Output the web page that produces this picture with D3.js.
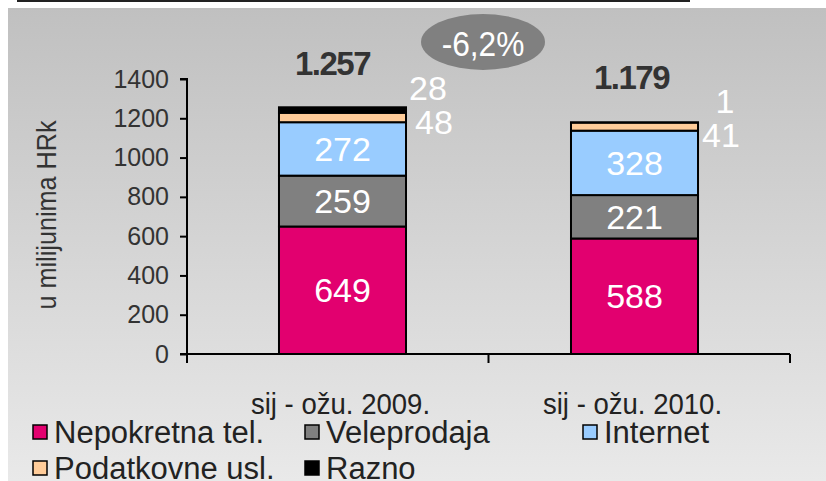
<!DOCTYPE html>
<html>
<head>
<meta charset="utf-8">
<script src="https://cdn.jsdelivr.net/npm/d3@7.9.0/dist/d3.min.js"></script>
<style>
  html, body { margin: 0; padding: 0; background: #fff; }
  svg { display: block; }
  text { font-family: "Liberation Sans", Arial, sans-serif; }
</style>
</head>
<body>
<svg id="chart" width="826" height="481"></svg>
<script>
const periods = ['sij - ožu. 2009.', 'sij - ožu. 2010.'];
const seriesNames = ['Nepokretna tel.', 'Veleprodaja', 'Internet', 'Podatkovne usl.', 'Razno'];
const seriesColors = ['#e2006f', '#808080', '#99ccff', '#ffcc99', '#000000'];
const nepokretna = [649, 588];
const veleprodaja = [259, 221];
const internet = [272, 328];
const podatkovne = [48, 41];
const razno = [28, 1];
const totals = ['1.257', '1.179'];
const yTicks = [0, 200, 400, 600, 800, 1000, 1200, 1400];
const change = '-6,2%';

const svg = d3.select('#chart');

// background panel with vertical gradient
const grad = svg.append('defs').append('linearGradient')
  .attr('id', 'bg').attr('x1', 0).attr('y1', 0).attr('x2', 0).attr('y2', 1);
grad.append('stop').attr('offset', '0%').attr('stop-color', '#c0c0c0');
grad.append('stop').attr('offset', '100%').attr('stop-color', '#e9e9e9');
svg.append('rect').attr('x', 8).attr('y', 8).attr('width', 818).attr('height', 473)
  .attr('fill', 'url(#bg)');

// line left over from the title above
svg.append('line').attr('x1', 17).attr('x2', 690).attr('y1', 1).attr('y2', 1)
  .attr('stroke', '#222').attr('stroke-width', 2);

const x = d3.scaleBand().domain(periods).range([187, 790])
  .paddingInner(0.565).paddingOuter(0.315);
const y = d3.scaleLinear().domain([0, 1400]).range([354, 79]);

const rows = periods.map((p, i) => ({
  period: p,
  values: [nepokretna[i], veleprodaja[i], internet[i], podatkovne[i], razno[i]]
}));

const stack = d3.stack().keys(d3.range(seriesNames.length)).value((d, k) => d.values[k]);
const layers = stack(rows);

// y axis
const yAxis = svg.append('g').attr('transform', 'translate(187,0)')
  .call(d3.axisLeft(y).tickValues(yTicks).tickFormat(d3.format('d')).tickSize(7).tickPadding(11));
yAxis.select('.domain').attr('stroke', '#000').attr('stroke-width', 2)
  .attr('d', `M-7,${y(1400)}H0V${y(0) + 8}`);
yAxis.selectAll('.tick line').attr('stroke', '#000').attr('stroke-width', 2);
yAxis.selectAll('.tick text').attr('font-size', 25).attr('fill', '#333')
  .attr('font-family', 'Liberation Sans, Arial, sans-serif');

svg.append('text')
  .attr('transform', `translate(56,215) rotate(-90) scale(0.9,1)`)
  .attr('text-anchor', 'middle')
  .attr('font-size', 28).attr('fill', '#333')
  .text('u milijunima HRk');

// bars
layers.forEach((layer, k) => {
  svg.append('g').selectAll('rect').data(layer).join('rect')
    .attr('x', d => x(d.data.period))
    .attr('y', d => y(d[1]))
    .attr('width', x.bandwidth())
    .attr('height', d => y(d[0]) - y(d[1]))
    .attr('fill', seriesColors[k])
    .attr('stroke', '#000').attr('stroke-width', 2);
});

// x axis
const xEdges = [x.range()[0], (x(periods[0]) + x.bandwidth() + x(periods[1])) / 2, x.range()[1]];
svg.append('line').attr('x1', 180).attr('x2', 790).attr('y1', y(0)).attr('y2', y(0))
  .attr('stroke', '#000').attr('stroke-width', 2);
svg.append('g').selectAll('line').data(xEdges).join('line')
  .attr('x1', d => d).attr('x2', d => d)
  .attr('y1', y(0)).attr('y2', y(0) + 9)
  .attr('stroke', '#000').attr('stroke-width', 2);
svg.append('g').selectAll('text').data(periods).join('text')
  .attr('transform', d => `translate(${x(d) + x.bandwidth() / 2 - 2},414) scale(0.95,1)`)
  .attr('text-anchor', 'middle')
  .attr('font-size', 29).attr('fill', '#222')
  .text(d => d);

// value labels
layers.forEach((layer, k) => {
  layer.forEach((d, i) => {
    const v = d.data.values[k];
    const cx = x(d.data.period) + x.bandwidth() / 2;
    const right = x(d.data.period) + x.bandwidth();
    const mid = (y(d[0]) + y(d[1])) / 2;
    let lx = cx, ly = mid;
    if (k === 3) { lx = right + 28 - 5 * i; ly = mid + 4 + 4 * i; }
    if (k === 4) { lx = right + 22 + 5 * i; ly = mid - 22 + 0.5 * i; }
    svg.append('text')
      .attr('x', lx).attr('y', ly)
      .attr('dy', '0.36em')
      .attr('text-anchor', 'middle')
      .attr('font-size', 34).attr('fill', '#fff')
      .text(v);
  });
});

// totals
svg.append('g').selectAll('text').data(periods).join('text')
  .attr('x', (d, i) => x(d) + x.bandwidth() / 2 - 10 + i * 7)
  .attr('y', (d, i) => i === 0 ? 75 : 89)
  .attr('text-anchor', 'middle')
  .attr('font-weight', 'bold')
  .attr('font-size', 33).attr('letter-spacing', -1.5).attr('fill', '#333')
  .text((d, i) => totals[i]);

// change bubble
svg.append('ellipse').attr('cx', 483).attr('cy', 42).attr('rx', 62).attr('ry', 28)
  .attr('fill', '#808080');
svg.append('text').attr('transform', 'translate(483,43) scale(0.88,1)').attr('dy', '0.36em')
  .attr('text-anchor', 'middle').attr('font-size', 36).attr('fill', '#fff')
  .text(change);

// legend
const legendPos = [[33, 432], [305, 432], [583, 432], [33, 468], [305, 468]];
const lg = svg.append('g').selectAll('g').data(seriesNames).join('g')
  .attr('transform', (d, i) => `translate(${legendPos[i][0]},${legendPos[i][1]})`);
lg.append('rect').attr('x', 0).attr('y', -7).attr('width', 14).attr('height', 14)
  .attr('fill', (d, i) => seriesColors[i]).attr('stroke', '#000').attr('stroke-width', 1.5);
lg.append('text').attr('x', 21).attr('dy', '0.36em')
  .attr('font-size', 31).attr('fill', '#222')
  .text(d => d);
</script>
</body>
</html>
